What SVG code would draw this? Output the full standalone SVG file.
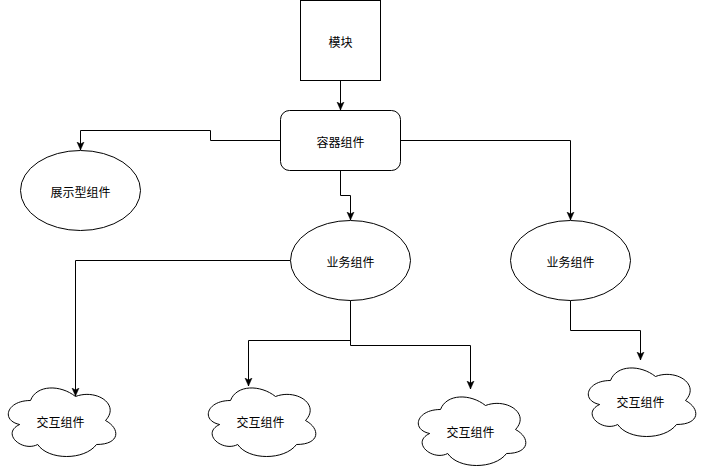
<svg xmlns="http://www.w3.org/2000/svg" width="701" height="471" viewBox="0 0 701 471">
<style>
.s{fill:#fff;stroke:#000;stroke-width:1}
.c{fill:none;stroke:#000;stroke-width:1}
text{font-family:"Noto Sans CJK SC","Noto Sans",sans-serif;font-size:12px;text-anchor:middle;dominant-baseline:central;fill:#000}
</style>
<defs>
<marker id="a" markerUnits="userSpaceOnUse" markerWidth="9" markerHeight="9" viewBox="0 0 9 9" refX="8" refY="4.5" orient="auto">
<path d="M0,1 L8,4.5 L0,8 L2,4.5 Z" fill="#000" stroke="#000" stroke-width="0.5"/>
</marker>
<path id="cloud" d="M30,20 C6,20 0,40 19.2,44 C0,52.8 21.6,72 37.2,64 C48,80 84,80 96,64 C120,64 120,48 105,40 C120,24 96,8 75,16 C60,4 36,4 30,20 Z"/>
</defs>
<g id="connectors">
<path class="c" d="M340.5,80.5 L340.5,110" marker-end="url(#a)"/>
<path class="c" d="M280.5,140.5 L210.5,140.5 L210.5,130.5 L80.5,130.5 L80.5,150" marker-end="url(#a)"/>
<path class="c" d="M340.5,170.5 L340.5,195.5 L350.5,195.5 L350.5,220" marker-end="url(#a)"/>
<path class="c" d="M400.5,140.5 L570.5,140.5 L570.5,220" marker-end="url(#a)"/>
<path class="c" d="M290.5,260.5 L75.5,260.5 L75.5,396" marker-end="url(#a)"/>
<path class="c" d="M350.5,300.5 L350.5,340.5 L248.5,340.5 L248.5,386" marker-end="url(#a)"/>
<path class="c" d="M350.5,300.5 L350.5,345.5 L470.5,345.5 L470.5,389" marker-end="url(#a)"/>
<path class="c" d="M570.5,300.5 L570.5,330.5 L640.5,330.5 L640.5,360" marker-end="url(#a)"/>
</g>
<g id="module"><rect class="s" x="300.5" y="0.5" width="80" height="80"/><text x="340.5" y="41">模块</text></g>
<g id="container"><rect class="s" x="280.5" y="110.5" width="120" height="60" rx="9" ry="9"/><text x="340.5" y="141">容器组件</text></g>
<g id="display"><ellipse class="s" cx="80.5" cy="190.5" rx="60" ry="40"/><text x="80.5" y="191">展示型组件</text></g>
<g id="biz1"><ellipse class="s" cx="350.5" cy="260.5" rx="60" ry="40"/><text x="350.5" y="261">业务组件</text></g>
<g id="biz2"><ellipse class="s" cx="570.5" cy="260.5" rx="60" ry="40"/><text x="570.5" y="261">业务组件</text></g>
<g id="cloud1"><use href="#cloud" class="s" transform="translate(0.5,380.5)"/><text x="60.5" y="421">交互组件</text></g>
<g id="cloud2"><use href="#cloud" class="s" transform="translate(200.5,380.5)"/><text x="260.5" y="421">交互组件</text></g>
<g id="cloud3"><use href="#cloud" class="s" transform="translate(410.5,389.5)"/><text x="470.5" y="431">交互组件</text></g>
<g id="cloud4"><use href="#cloud" class="s" transform="translate(580.5,360.5)"/><text x="640.5" y="401">交互组件</text></g>
</svg>
